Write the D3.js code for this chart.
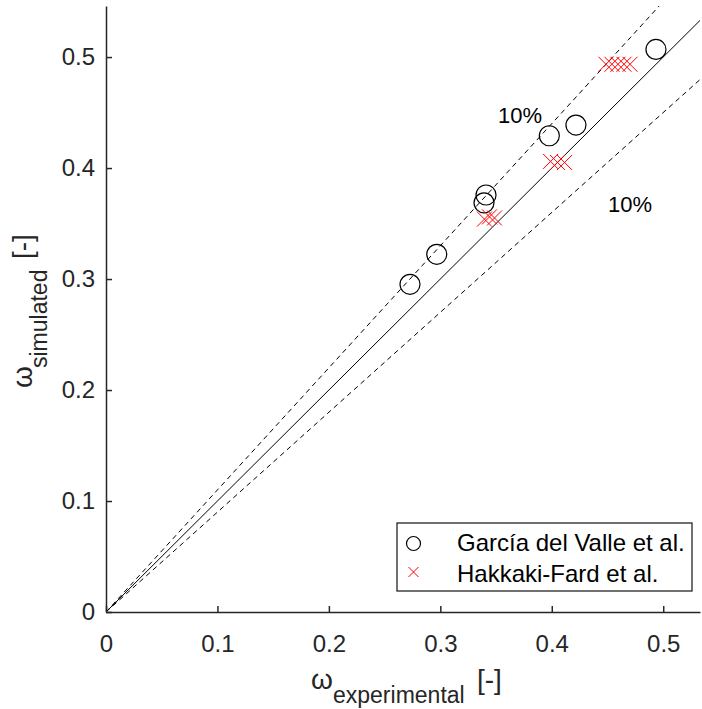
<!DOCTYPE html>
<html>
<head>
<meta charset="utf-8">
<script src="https://cdn.jsdelivr.net/npm/d3@7"></script>
<style>
  body { margin: 0; background: #fff; }
  svg { display: block; }
  text { font-family: "Liberation Sans", Arial, Helvetica, sans-serif; }
</style>
</head>
<body>
<svg id="chart" width="702" height="709"></svg>
<script>
// García del Valle et al. — experimental vs simulated
const garciaExp = [0.2728, 0.2968, 0.3410, 0.3392, 0.3978, 0.4217, 0.4935];
const garciaSim = [0.2952, 0.3223, 0.3757, 0.3687, 0.4291, 0.4387, 0.5069];

// Hakkaki-Fard et al. — experimental vs simulated
const hakkakiExp = [0.3396, 0.3441, 0.3486, 0.3989, 0.4052, 0.4115, 0.4486, 0.4540, 0.4594, 0.4648, 0.4702];
const hakkakiSim = [0.3540, 0.3560, 0.3550, 0.4060, 0.4050, 0.4050, 0.4935, 0.4935, 0.4935, 0.4935, 0.4935];

// Parity line and ±10 % bands
const refSlopes = [1.0, 1.1, 0.9];
const refDashed = [false, true, true];
const refXExtent = [0, 0.6];

// Band annotations
const bandText = ["10%", "10%"];
const bandX = [0.3517, 0.4504];
const bandY = [0.4405, 0.3604];

const tickValues = [0, 0.1, 0.2, 0.3, 0.4, 0.5];
const xDomain = [0, 0.533];
const yDomain = [0, 0.546];

const legendLabels = ["García del Valle et al.", "Hakkaki-Fard et al."];

const svg = d3.select("#chart");
const plotLeft = 106, plotRight = 700, plotTop = 6, plotBottom = 612;
const axisColor = "#262626";

const x = d3.scaleLinear().domain(xDomain).range([plotLeft, plotRight]);
const y = d3.scaleLinear().domain(yDomain).range([plotBottom, plotTop]);

svg.append("defs").append("clipPath").attr("id", "plotClip")
  .append("rect").attr("x", plotLeft).attr("y", plotTop)
  .attr("width", plotRight - plotLeft).attr("height", plotBottom - plotTop);

// Reference lines
const lineGen = d3.line().x(d => x(d[0])).y(d => y(d[1]));
const refGroup = svg.append("g").attr("clip-path", "url(#plotClip)");
refSlopes.forEach((s, i) => {
  refGroup.append("path")
    .datum(refXExtent.map(v => [v, v * s]))
    .attr("d", lineGen)
    .attr("fill", "none")
    .attr("stroke", "#000")
    .attr("stroke-width", 1)
    .attr("stroke-dasharray", refDashed[i] ? "5,4" : null);
});

// Band labels
svg.append("g").selectAll("text").data(bandText).join("text")
  .attr("x", (d, i) => x(bandX[i]))
  .attr("y", (d, i) => y(bandY[i]))
  .attr("font-size", 22)
  .attr("fill", "#000")
  .text(d => d);

// Axes
const xAxis = d3.axisBottom(x).tickValues(tickValues).tickFormat(d3.format("~g"))
  .tickSizeInner(-6).tickSizeOuter(0).tickPadding(23);
const yAxis = d3.axisLeft(y).tickValues(tickValues).tickFormat(d3.format("~g"))
  .tickSizeInner(-6).tickSizeOuter(0).tickPadding(11);

const gx = svg.append("g").attr("transform", `translate(0,${plotBottom})`).call(xAxis);
const gy = svg.append("g").attr("transform", `translate(${plotLeft},0)`).call(yAxis);
[gx, gy].forEach(g => {
  g.select(".domain").attr("stroke", axisColor).attr("stroke-width", 1.5);
  g.selectAll(".tick line").attr("stroke", axisColor).attr("stroke-width", 1.5);
  g.selectAll(".tick text").attr("fill", axisColor).attr("font-size", 24)
    .style("font-family", '"Liberation Sans", Arial, Helvetica, sans-serif');
});

// García del Valle markers
svg.append("g").selectAll("circle").data(garciaExp).join("circle")
  .attr("cx", d => x(d))
  .attr("cy", (d, i) => y(garciaSim[i]))
  .attr("r", 10)
  .attr("fill", "none")
  .attr("stroke", "#000")
  .attr("stroke-width", 1.2);

// Hakkaki-Fard markers
const cross = (cx, cy, h) => `M${cx - h},${cy - h}L${cx + h},${cy + h}M${cx - h},${cy + h}L${cx + h},${cy - h}`;
svg.append("g").selectAll("path").data(hakkakiExp).join("path")
  .attr("d", (d, i) => cross(x(d), y(hakkakiSim[i]), 7.5))
  .attr("fill", "none")
  .attr("stroke", "#ff0000")
  .attr("stroke-width", 1);

// Legend
const lg = svg.append("g");
lg.append("rect").attr("x", 397).attr("y", 523).attr("width", 295).attr("height", 68)
  .attr("fill", "#fff").attr("stroke", axisColor).attr("stroke-width", 1.3);
lg.append("circle").attr("cx", 413.5).attr("cy", 543.5).attr("r", 7)
  .attr("fill", "none").attr("stroke", "#000").attr("stroke-width", 1.2);
lg.append("path").attr("d", cross(413.5, 572, 5))
  .attr("fill", "none").attr("stroke", "#ff0000").attr("stroke-width", 1);
lg.selectAll("text").data(legendLabels).join("text")
  .attr("x", 457)
  .attr("y", (d, i) => 551 + i * 31)
  .attr("font-size", 24)
  .attr("fill", "#000")
  .text(d => d);

// Axis titles
const xt = svg.append("text").attr("fill", axisColor);
xt.append("tspan").attr("x", 311).attr("y", 689).attr("font-size", 28).text("ω");
xt.append("tspan").attr("x", 333).attr("y", 703).attr("font-size", 23).text("experimental");
xt.append("tspan").attr("x", 477).attr("y", 689).attr("font-size", 28).text("[-]");

const yt = svg.append("text").attr("fill", axisColor).attr("transform", "rotate(-90)");
yt.append("tspan").attr("x", -388).attr("y", 32).attr("font-size", 28).text("ω");
yt.append("tspan").attr("x", -368).attr("y", 47).attr("font-size", 23).text("simulated");
yt.append("tspan").attr("x", -259).attr("y", 32).attr("font-size", 28).text("[-]");
</script>
</body>
</html>
